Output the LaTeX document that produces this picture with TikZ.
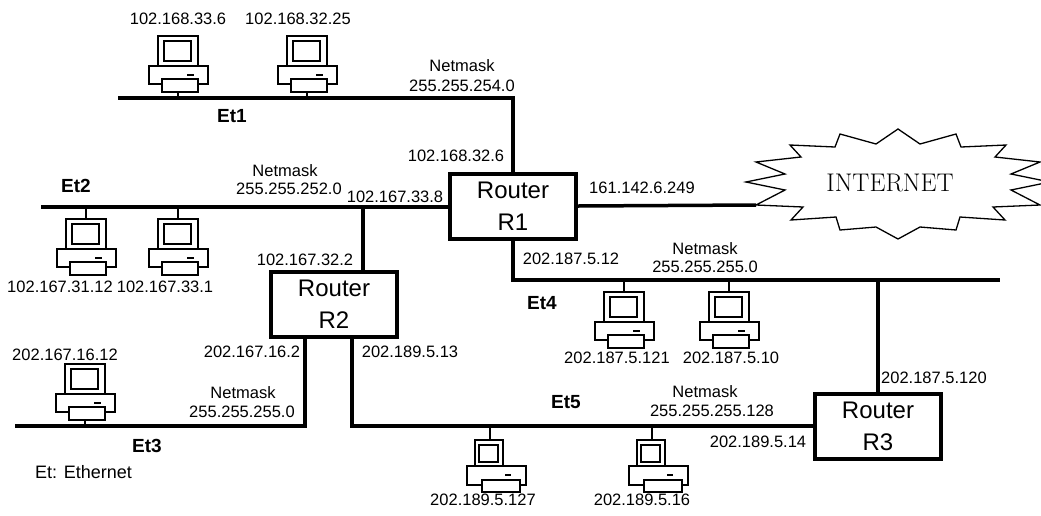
\documentclass[tikz,border=0pt]{standalone}
\usepackage{fontspec}
\newfontfamily\arialf{Liberation Sans}
\begin{document}
\begin{tikzpicture}[x=1pt,y=-1pt,
  lbl/.style={font=\arialf\fontsize{16.5}{19}\selectfont, inner sep=0pt},
  etl/.style={font=\arialf\bfseries\fontsize{19}{22}\selectfont, inner sep=0pt},
  router/.style={draw, line width=4pt, minimum width=126pt, minimum height=65pt, align=center,
    font=\arialf\fontsize{24}{32}\selectfont, inner sep=0pt},
  bus/.style={line width=3.5pt},
  stub/.style={line width=2.5pt},
  pcl/.style={line width=2pt},
  pc/.pic={
    \draw[pcl,fill=white] (-20,0) rectangle (20,30);
    \draw[pcl] (-14,5) rectangle (13,25);
    \draw[pcl,fill=white] (-29,30) rectangle (30,48);
    \fill (9,38) rectangle (16,40);
    \draw[pcl,fill=white] (-16,43) rectangle (20,56);
  },
  pcs/.pic={
    \draw[pcl,fill=white] (-15,0) rectangle (13,26);
    \draw[pcl] (-11,5) rectangle (8,22);
    \draw[pcl,fill=white] (-23,26) rectangle (36,45);
    \fill (15,34) rectangle (21,36);
    \draw[pcl,fill=white] (-8,40) rectangle (30,52);
  }
]
\useasboundingbox (0,0) rectangle (1041,515);

% routers
\node[router] (R1) at (513,206) {Router\\R1};
\node[router] (R2) at (334,304) {Router\\R2};
\node[router] (R3) at (878,426) {Router\\R3};

% internet starburst
\begin{scope}
\clip (0,0) rectangle (1041,515);
\begin{scope}[shift={(898,182)}]
\draw[line width=1.3pt,fill=white]
 (-152,0) -- (-113,8) -- (-142,23) -- (-95,25) -- (-107,38) -- (-62,35) -- (-58,48) -- (-22,45) -- (0,57)
 -- (22,45) -- (58,48) -- (62,35) -- (107,38) -- (95,25) -- (142,23) -- (113,8) -- (152,0)
 -- (113,-8) -- (142,-20) -- (97,-25) -- (108,-37) -- (63,-35) -- (58,-48) -- (22,-38) -- (0,-53)
 -- (-22,-38) -- (-58,-48) -- (-63,-35) -- (-108,-37) -- (-97,-25) -- (-142,-20) -- (-113,-8) -- cycle;
\coordinate (inet) at (-142,23);
\end{scope}
\end{scope}
\node[inner sep=0pt,font=\fontsize{25.5}{28}\selectfont] (INT) at (890,183) {INTERNET};

% bus coordinates
\coordinate (e1L) at (118,98);
\coordinate (e2L) at (41,207);
\coordinate (e2J) at (363,207);
\coordinate (e3L) at (15,426);
\coordinate (e3J) at (305,426);
\coordinate (e5J) at (352,426);
\coordinate (e4J) at (513,280);
\coordinate (e4R) at (1000,280);
\coordinate (e4D) at (878,280);

% buses
\draw[bus] (e1L) -| (R1.north);
\draw[bus] (e2L) -- (e2L -| R1.west);
\draw[bus] (e2J) -- (e2J |- R2.north);
\draw[bus] (R1.south) -- (e4J) -- (e4R);
\draw[bus] (e4D) -- (R3.north);
\draw[bus] (e3J |- R2.south) -- (e3J) -- (e3L);
\draw[bus] (e5J |- R2.south) -- (e5J) -- (e5J -| R3.west);
\draw[bus] (R1.east) -- (inet);

% computers Et1 (above)
\foreach \x in {178,307} {\pic at (\x,36) {pc}; \draw[stub] (\x,92) -- (\x,98);}
% Et2 (below)
\foreach \x in {86,178} {\draw[stub] (\x,207) -- (\x,219); \pic at (\x,219) {pc};}
% Et3 (above)
\pic at (85,364) {pc}; \draw[stub] (85,420) -- (85,426);
% Et4 (below)
\foreach \x in {624,729} {\draw[stub] (\x,280) -- (\x,292); \pic at (\x,292) {pc};}
% Et5 (below, small)
\foreach \x in {490,652} {\draw[stub] (\x,426) -- (\x,440); \pic at (\x,440) {pcs};}

% labels
\node[lbl] (a1) at (178,19) {102.168.33.6};
\node[lbl] (a2) at (298,19) {102.168.32.25};
\node[lbl] (n1a) at (462,66) {Netmask};
\node[lbl] (n1b) at (462,86) {255.255.254.0};
\node[etl] (et1) at (232,116) {Et1};
\node[lbl] (a3) at (456,156) {102.168.32.6};
\node[lbl] (a4) at (642,188) {161.142.6.249};
\node[etl] (et2) at (76,186) {Et2};
\node[lbl] (n2a) at (285,171) {Netmask};
\node[lbl] (n2b) at (289,189) {255.255.252.0};
\node[lbl] (a5) at (395,197) {102.167.33.8};
\node[lbl] (a6) at (60,287) {102.167.31.12};
\node[lbl] (a7) at (165,287) {102.167.33.1};
\node[lbl] (a8) at (305,260) {102.167.32.2};
\node[lbl] (a9) at (65,355) {202.167.16.12};
\node[lbl] (a10) at (252,352) {202.167.16.2};
\node[lbl] (a11) at (410,352) {202.189.5.13};
\node[lbl] (n3a) at (243,393) {Netmask};
\node[lbl] (n3b) at (242,412) {255.255.255.0};
\node[etl] (et3) at (147,446) {Et3};
\node[lbl,anchor=west,font=\arialf\fontsize{18}{20}\selectfont] (leg) at (35,472) {Et: Ethernet};
\node[lbl] (a12) at (571,259) {202.187.5.12};
\node[lbl] (n4a) at (705,249) {Netmask};
\node[lbl] (n4b) at (705,267) {255.255.255.0};
\node[etl] (et4) at (542,303) {Et4};
\node[lbl] (a13) at (617,358) {202.187.5.121};
\node[lbl] (a14) at (731,358) {202.187.5.10};
\node[lbl,anchor=west] (a15) at (881,378) {202.187.5.120};
\node[etl] (et5) at (566,402) {Et5};
\node[lbl] (n5a) at (705,392) {Netmask};
\node[lbl] (n5b) at (712,411) {255.255.255.128};
\node[lbl] (a16) at (758,442) {202.189.5.14};
\node[lbl] (a17) at (483,500) {202.189.5.127};
\node[lbl] (a18) at (642,500) {202.189.5.16};
\end{tikzpicture}
\end{document}
